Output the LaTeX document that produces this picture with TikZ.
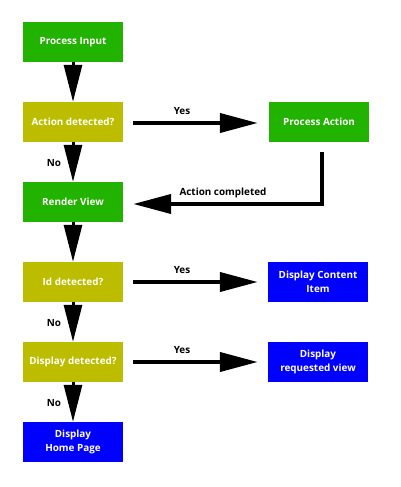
\documentclass[tikz,border=0pt]{standalone}
\usepackage{fontspec}
\setmainfont{Open Sans}
\usetikzlibrary{arrows.meta}
\definecolor{grn}{RGB}{34,178,0}
\definecolor{olv}{RGB}{189,189,0}
\definecolor{blu}{RGB}{0,0,255}
\begin{document}
\begin{tikzpicture}[x=1pt,y=-1pt,
  box/.style={minimum width=100pt, minimum height=40pt, inner sep=0pt, text=white,
    font=\bfseries\fontsize{9.9}{14.5}\selectfont, align=center},
  proc/.style={box, fill=grn},
  dec/.style={box, fill=olv},
  outb/.style={box, fill=blu},
  lbl/.style={font=\bfseries\fontsize{9.9}{12}\selectfont, text=black, inner sep=0pt},
  varrow/.style={line width=3pt, -{Triangle[length=37pt,width=18pt]}},
  harrow/.style={line width=4pt, -{Triangle[length=38pt,width=19pt]}}]
\useasboundingbox[fill=white] (0,0) rectangle (400,487);

\node[proc] (pi) at (73,42) {Process Input};
\node[dec]  (ad) at (73,122) {Action detected?};
\node[proc] (rv) at (73,202) {Render View};
\node[dec]  (id) at (73,282) {Id detected?};
\node[dec]  (dd) at (73,362) {Display detected?};
\node[outb] (hp) at (73,442) {Display\\Home Page};
\node[proc] (pa) at (319,122) {Process Action};
\node[outb] (ci) at (318,282) {Display Content\\Item};
\node[outb] (rq) at (318,362) {Display\\requested view};

\draw[varrow] (pi.south) -- (ad.north);
\draw[varrow] (ad.south) -- (rv.north);
\draw[varrow] (rv.south) -- (id.north);
\draw[varrow] (id.south) -- (dd.north);
\draw[varrow] (dd.south) -- (hp.north);

\draw[harrow] ([xshift=10pt,yshift=-1pt]ad.east) -- ([xshift=-11pt,yshift=-1pt]pa.west);
\draw[harrow] ([xshift=10pt]id.east) -- ([xshift=-10pt]ci.west);
\draw[harrow] ([xshift=10pt]dd.east) -- ([xshift=-10pt]rq.west);
\draw[harrow] ([xshift=3pt,yshift=-10pt]pa.south) |- ([xshift=10pt,yshift=-2pt]rv.east);

\node[lbl] (y1) at (182,111) {Yes};
\node[lbl] (y2) at (182,270) {Yes};
\node[lbl] (y3) at (182,350) {Yes};
\node[lbl] (n1) at (54,163) {No};
\node[lbl] (n2) at (54,323) {No};
\node[lbl] (n3) at (54,403) {No};
\node[lbl] (ac) at (223,193) {Action completed};
\end{tikzpicture}
\end{document}
